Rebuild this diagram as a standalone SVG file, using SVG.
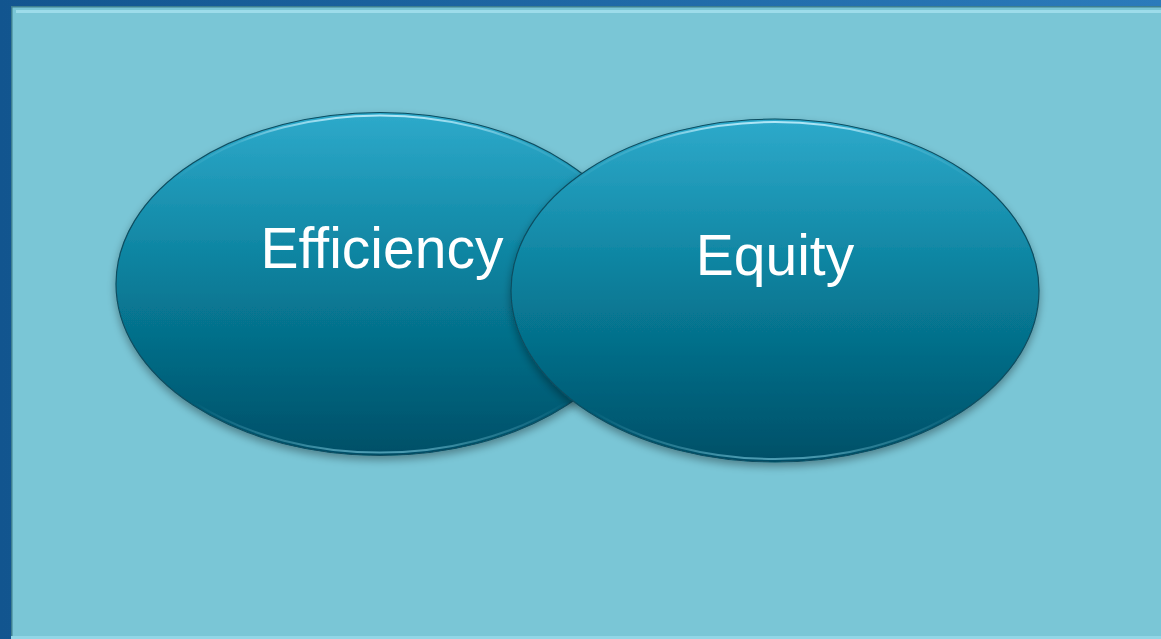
<svg xmlns="http://www.w3.org/2000/svg" width="1161" height="639" viewBox="0 0 1161 639">
<defs>
<linearGradient id="frame" x1="0" y1="0" x2="1" y2="0">
<stop offset="0" stop-color="#12558f"/>
<stop offset="1" stop-color="#2b7bbb"/>
</linearGradient>
<linearGradient id="oval" x1="0" y1="0" x2="0" y2="1">
<stop offset="0" stop-color="#2eaacb"/>
<stop offset="0.5" stop-color="#087d99"/>
<stop offset="1" stop-color="#004f67"/>
</linearGradient>
<linearGradient id="bevel" x1="0" y1="0" x2="0" y2="1">
<stop offset="0" stop-color="#c8f2ff" stop-opacity="0.85"/>
<stop offset="0.08" stop-color="#c8f2ff" stop-opacity="0.15"/>
<stop offset="0.2" stop-color="#c8f2ff" stop-opacity="0"/>
<stop offset="0.85" stop-color="#7fd0e4" stop-opacity="0"/>
<stop offset="0.97" stop-color="#7fd0e4" stop-opacity="0.35"/>
<stop offset="1" stop-color="#7fd0e4" stop-opacity="0.6"/>
</linearGradient>
<filter id="shadow" x="-10%" y="-10%" width="120%" height="130%">
<feGaussianBlur in="SourceAlpha" stdDeviation="4"/>
<feOffset dy="4"/>
<feComponentTransfer><feFuncA type="linear" slope="0.35"/></feComponentTransfer>
<feMerge><feMergeNode/><feMergeNode in="SourceGraphic"/></feMerge>
</filter>
</defs>
<style>
.oval{fill:url(#oval);stroke:#0b4d60;stroke-width:1.2}
.bev{fill:none;stroke:url(#bevel);stroke-width:2}
.lbl{font-family:"Liberation Sans",Arial,sans-serif;font-size:57px;fill:#ffffff;text-anchor:middle}
</style>
<rect x="0" y="0" width="1161" height="639" fill="url(#frame)"/>
<rect x="11" y="6" width="1150" height="633" fill="#7ac6d6"/>
<rect x="11" y="6" width="1150" height="1.5" fill="#3d7f90"/>
<rect x="11" y="6" width="1.5" height="633" fill="#3d7f90"/>
<rect x="16" y="10" width="1145" height="3" fill="#9ddcea"/>
<rect x="11" y="636" width="1150" height="3" fill="#92d6e6"/>
<g id="efficiency">
<ellipse class="oval" cx="380" cy="284" rx="264" ry="171.5" filter="url(#shadow)"/>
<ellipse class="bev" cx="380" cy="284" rx="261" ry="168.5"/>
<text class="lbl" x="382" y="268">Efficiency</text>
</g>
<g id="equity">
<ellipse class="oval" cx="775" cy="290.5" rx="264" ry="171.5" filter="url(#shadow)"/>
<ellipse class="bev" cx="775" cy="290.5" rx="261" ry="168.5"/>
<text class="lbl" x="775" y="275">Equity</text>
</g>
<g id="connectors"/>
</svg>
